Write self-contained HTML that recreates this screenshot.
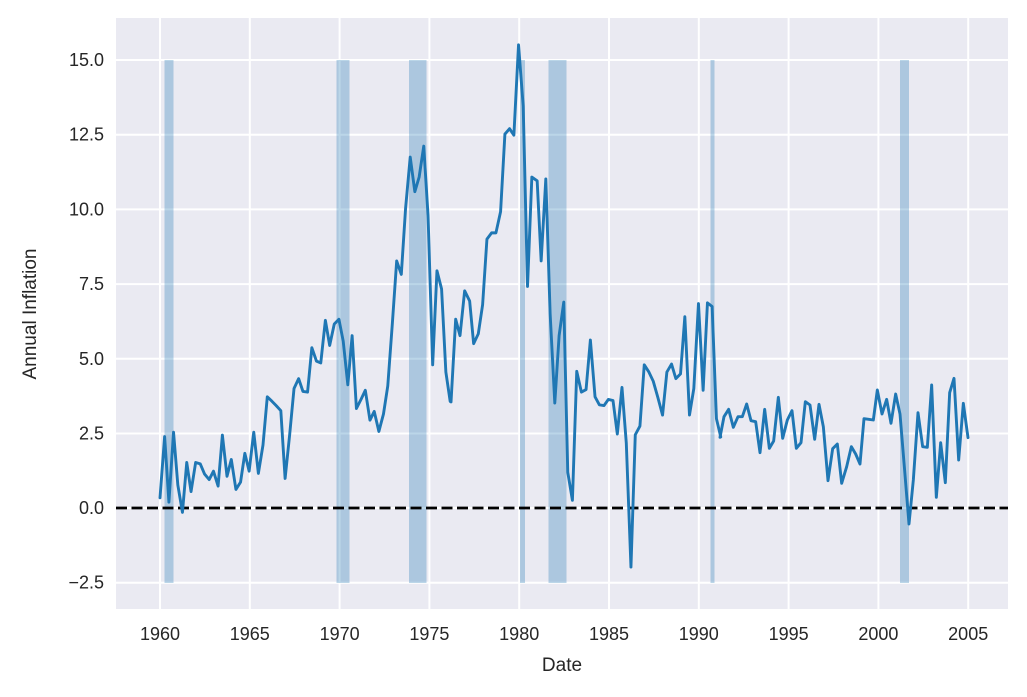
<!DOCTYPE html>
<html><head><meta charset="utf-8"><style>
html,body{margin:0;padding:0;background:#fff;}
svg{display:block;font-family:"Liberation Sans",Arial,sans-serif;}
</style></head><body>
<svg width="1027" height="697" viewBox="0 0 1027 697" xmlns="http://www.w3.org/2000/svg">
<rect x="0" y="0" width="1027" height="697" fill="#fff"/>
<rect x="116" y="18" width="892" height="591" fill="#eaeaf2"/>
<g stroke="#fff" stroke-width="2">
<line x1="116" x2="1008" y1="60" y2="60"/><line x1="116" x2="1008" y1="134.7" y2="134.7"/>
<line x1="116" x2="1008" y1="209.4" y2="209.4"/><line x1="116" x2="1008" y1="284.1" y2="284.1"/>
<line x1="116" x2="1008" y1="358.8" y2="358.8"/><line x1="116" x2="1008" y1="433.5" y2="433.5"/>
<line x1="116" x2="1008" y1="508" y2="508"/><line x1="116" x2="1008" y1="582.7" y2="582.7"/>
<line y1="18" y2="609" x1="160" x2="160"/><line y1="18" y2="609" x1="249.8" x2="249.8"/>
<line y1="18" y2="609" x1="339.6" x2="339.6"/><line y1="18" y2="609" x1="429.4" x2="429.4"/>
<line y1="18" y2="609" x1="519.2" x2="519.2"/><line y1="18" y2="609" x1="609" x2="609"/>
<line y1="18" y2="609" x1="698.8" x2="698.8"/><line y1="18" y2="609" x1="788.6" x2="788.6"/>
<line y1="18" y2="609" x1="878.4" x2="878.4"/><line y1="18" y2="609" x1="968.2" x2="968.2"/>
</g>
<g fill="#1f77b4" fill-opacity="0.3">
<rect x="164.5" y="60" width="9" height="523"/>
<rect x="336.5" y="60" width="13" height="523"/>
<rect x="409" y="60" width="17.5" height="523"/>
<rect x="520" y="60" width="5" height="523"/>
<rect x="548.5" y="60" width="18" height="523"/>
<rect x="710.5" y="60" width="4" height="523"/>
<rect x="900" y="60" width="9" height="523"/>
</g>
<line x1="116" x2="1008" y1="508" y2="508" stroke="#000" stroke-width="2.8" stroke-dasharray="11 4.5"/>
<g fill="none" stroke="#1f77b4" stroke-width="2.9" stroke-linejoin="round" stroke-linecap="round">
<g transform="matrix(0.3301,0,0,0.3644,154.06,29.54)">
<polyline vector-effect="non-scaling-stroke" points="18,1285 32,1117 45,1297 59,1105 72,1250 86,1325 99,1188 112,1268 126,1188 140,1192 153,1220 167,1235 180,1212 194,1253 207,1113 221,1226 234,1180 248,1262 262,1242 275,1163 288,1212 302,1105 316,1218 330,1140 343,1008 357,1020 370,1032 384,1046 397,1232 411,1110 424,985 438,958 451,993 465,995 478,873 492,910 505,915 519,798 532,867 546,808 560,795 573,855 587,975 600,840 613,1040 627,1015 640,990 654,1072 667,1048 681,1103 695,1055 708,978 722,805 735,635 749,672 762,490 776,350 790,445 803,405 817,320 830,510 844,920 857,662 871,712 884,940 897,1020"/>
</g>
<g transform="matrix(0.3326,0,0,0.3644,442.04,29.54)">
<polyline vector-effect="non-scaling-stroke" points="27,1022 41,795 54,840 68,717 83,745 95,862 109,835 122,755 135,575 149,558 162,558 176,500 189,287 203,272 216,290 230,42 244,210 257,705 270,405 286,415 298,635 312,410 325,780 339,1025 352,840 366,748 378,1215 392,1292 405,938 419,995 433,988 446,852 460,1008 473,1030 487,1032 500,1015 514,1018 527,1110 541,982 554,1135 568,1475 581,1112 595,1088 608,920 622,940 635,965 649,1010 663,1058 676,940 690,918 703,958 717,945 730,788 744,1058 757,985 771,752 785,990 798,750 812,760 825,1068 838,1118"/>
</g>
<g transform="translate(700,250) scale(0.33333)">
<polyline vector-effect="non-scaling-stroke" points="60,562 72,500 86,478 100,532 114,500 127,500 140,462 153,512 167,515 180,608 194,478 208,595 221,573 235,442 248,565 262,510 276,482 289,595 303,578 316,455 330,465 344,568 357,463 370,530 384,692 398,596 412,582 425,700 440,650 454,590 467,612 480,642 492,506 506,508 520,510 532,420 546,492 560,448 573,520 587,432 600,492 613,650 627,822 640,690 654,488 668,590 682,592 695,405 709,742 722,578 736,698 749,428 762,385 776,630 790,460 804,563"/>
</g>
</g>
<g fill="#262626" font-size="18" text-anchor="end">
<text x="104" y="66">15.0</text><text x="104" y="140.7">12.5</text>
<text x="104" y="215.4">10.0</text><text x="104" y="290.1">7.5</text>
<text x="104" y="364.8">5.0</text><text x="104" y="439.5">2.5</text>
<text x="104" y="514">0.0</text><text x="104" y="588.7">−2.5</text>
</g>
<g fill="#262626" font-size="18" text-anchor="middle">
<text x="160" y="640">1960</text><text x="249.8" y="640">1965</text>
<text x="339.6" y="640">1970</text><text x="429.4" y="640">1975</text>
<text x="519.2" y="640">1980</text><text x="609" y="640">1985</text>
<text x="698.8" y="640">1990</text><text x="788.6" y="640">1995</text>
<text x="878.4" y="640">2000</text><text x="968.2" y="640">2005</text>
<text x="562" y="671" font-size="19">Date</text>
<text x="0" y="0" font-size="19" transform="translate(36,314) rotate(-90)">Annual Inflation</text>
</g>
</svg>
</body></html>
